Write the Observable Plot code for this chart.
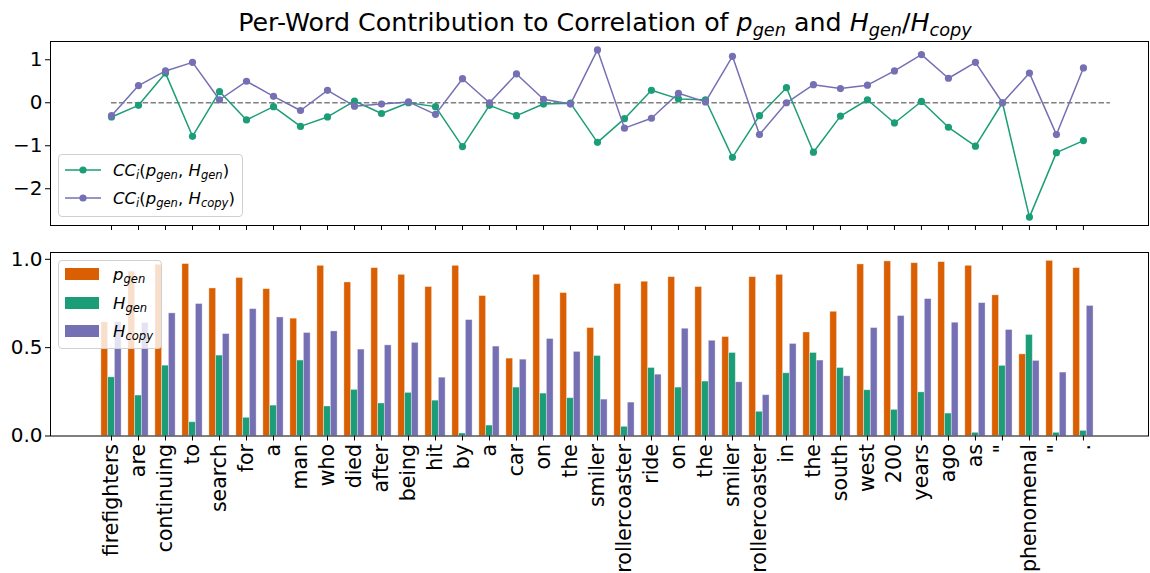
<!DOCTYPE html>
<html>
<head>
<meta charset="utf-8">
<script src="https://cdn.jsdelivr.net/npm/d3@7"></script>
<script src="https://cdn.jsdelivr.net/npm/@observablehq/plot@0.6"></script>
<style>
  html, body { margin: 0; padding: 0; background: white; }
  #wrap { position: relative; width: 1150px; height: 573px; font-family: "DejaVu Sans", sans-serif; color: black; overflow: hidden; }
  #title { position: absolute; left: 50px; width: 1110px; top: 8px; text-align: center; font-size: 25.3px; white-space: nowrap; }
  sub { font-size: 0.7em; vertical-align: -0.3em; line-height: 0; }
  .legend { position: absolute; background: rgba(255,255,255,0.8); border: 1px solid #d0d0d0; border-radius: 4px; box-sizing: border-box; }
  .row { position: absolute; left: 0; height: 24px; display: flex; align-items: center; font-size: 16.5px; white-space: nowrap; }
  .row svg { display: block; }
  .panel { position: absolute; left: 0; }
</style>
</head>
<body>
<div id="wrap">
  <div id="title">Per-Word Contribution to Correlation of <i>p<sub>gen</sub></i> and <i>H<sub>gen</sub></i>/<i>H<sub>copy</sub></i></div>
  <div id="toppanel" class="panel" style="top:0px"></div>
  <div id="bottompanel" class="panel" style="top:240px"></div>
</div>
<script>
const words = ["firefighters","are","continuing","to","search","for","a","man","who","died","after","being","hit","by","a","car","on","the","smiler","rollercoaster","ride","on","the","smiler","rollercoaster","in","the","south","west","200","years","ago","as","\"","phenomenal","\"","."];

const ccGen = [-0.33,-0.06,0.69,-0.78,0.26,-0.40,-0.09,-0.55,-0.33,0.04,-0.25,0.0,-0.09,-1.02,-0.06,-0.30,-0.03,-0.01,-0.92,-0.37,0.29,0.09,0.07,-1.27,-0.30,0.35,-1.15,-0.31,0.07,-0.47,0.03,-0.57,-1.01,0.0,-2.66,-1.16,-0.88];
const ccCopy = [-0.30,0.40,0.74,0.94,0.07,0.50,0.15,-0.18,0.29,-0.08,-0.03,0.02,-0.27,0.56,0.0,0.67,0.08,-0.03,1.23,-0.59,-0.36,0.22,0.02,1.08,-0.74,0.0,0.42,0.33,0.41,0.74,1.12,0.57,0.94,0.0,0.69,-0.74,0.81];

const pGen = [0.643,0.93,0.969,0.973,0.835,0.894,0.831,0.664,0.963,0.869,0.950,0.912,0.843,0.963,0.792,0.438,0.912,0.809,0.611,0.860,0.873,0.899,0.843,0.560,0.899,0.912,0.586,0.703,0.971,0.988,0.978,0.984,0.963,0.796,0.462,0.991,0.950];
const hGen = [0.332,0.229,0.398,0.078,0.455,0.103,0.172,0.427,0.167,0.261,0.184,0.244,0.200,0.014,0.059,0.274,0.240,0.214,0.453,0.052,0.385,0.274,0.308,0.470,0.137,0.355,0.470,0.385,0.259,0.148,0.247,0.127,0.018,0.397,0.572,0.018,0.029];
const hCopy = [0.643,0.64,0.694,0.747,0.577,0.718,0.671,0.583,0.592,0.489,0.513,0.527,0.330,0.656,0.506,0.432,0.549,0.476,0.206,0.189,0.347,0.607,0.539,0.304,0.231,0.521,0.427,0.338,0.611,0.679,0.775,0.641,0.752,0.600,0.425,0.359,0.736];

const topTicks = [-2, -1, 0, 1];
const bottomTicks = [0, 0.5, 1.0];

const cGreen = "#1b9e77", cPurple = "#7570b3", cOrange = "#d95f02";
const idx = d3.range(words.length);
const xDomain = [-2.26, 38.41];

const lineGen = idx.map(i => ({i, v: ccGen[i]}));
const lineCopy = idx.map(i => ({i, v: ccCopy[i]}));

const plotStyle = {fontFamily: "DejaVu Sans", fontSize: "20px", color: "black", background: "transparent", overflow: "visible"};

const topChart = Plot.plot({
  width: 1150, height: 240,
  marginLeft: 50, marginRight: 2, marginTop: 41, marginBottom: 15,
  style: plotStyle,
  x: {domain: xDomain},
  y: {domain: [-2.855, 1.425]},
  marks: [
    Plot.ruleY([0], {x1: 0, x2: words.length, stroke: "#808080", strokeWidth: 1.5, strokeDasharray: "5.5,2.4"}),
    Plot.line(lineGen, {x: "i", y: "v", stroke: cGreen, strokeWidth: 1.5}),
    Plot.dot(lineGen, {x: "i", y: "v", fill: cGreen, r: 3.6}),
    Plot.line(lineCopy, {x: "i", y: "v", stroke: cPurple, strokeWidth: 1.5}),
    Plot.dot(lineCopy, {x: "i", y: "v", fill: cPurple, r: 3.6}),
    Plot.axisX(idx, {tickSize: 5, tickFormat: () => "", label: null}),
    Plot.axisY(topTicks, {tickSize: 5, tickPadding: 3, fontSize: 20, label: null}),
    Plot.frame({stroke: "black", strokeWidth: 1})
  ]
});
document.getElementById("toppanel").appendChild(topChart);

const bars = [];
const series = [[pGen, cOrange, -0.25], [hGen, cGreen, 0], [hCopy, cPurple, 0.25]];
for (const [arr, color, off] of series) {
  idx.forEach(i => bars.push({x1: i + off - 0.125, x2: i + off + 0.125, v: arr[i], color}));
}

const bottomChart = Plot.plot({
  width: 1150, height: 333,
  marginLeft: 50, marginRight: 2, marginTop: 12, marginBottom: 137.5,
  style: plotStyle,
  x: {domain: xDomain},
  y: {domain: [0, 1.0385]},
  marks: [
    Plot.rectY(bars, {x1: "x1", x2: "x2", y: "v", fill: "color", stroke: "white", strokeOpacity: 0.45, strokeWidth: 0.8, inset: 0}),
    Plot.axisX(idx, {tickSize: 5, tickPadding: 3, tickRotate: -90, tickFormat: i => words[i], fontSize: 20.5, label: null}),
    Plot.axisY(bottomTicks, {tickSize: 5, tickPadding: 3, fontSize: 20, tickFormat: d3.format(".1f"), label: null}),
    Plot.frame({stroke: "black", strokeWidth: 1})
  ]
});
document.getElementById("bottompanel").appendChild(bottomChart);

// legends
const wrap = document.getElementById("wrap");
function legend(left, topPx, w, h, rows) {
  const box = document.createElement("div");
  box.className = "legend";
  box.style.left = left + "px"; box.style.top = topPx + "px";
  box.style.width = w + "px"; box.style.height = h + "px";
  rows.forEach(r => {
    const row = document.createElement("div");
    row.className = "row";
    row.style.top = (r.y - 12) + "px";
    row.style.left = "6px";
    row.innerHTML = r.swatch + `<span style="margin-left:${r.gap}px">${r.html}</span>`;
    box.appendChild(row);
  });
  wrap.appendChild(box);
}
const lineSw = c => `<svg width="36" height="12"><line x1="0" y1="6" x2="36" y2="6" stroke="${c}" stroke-width="1.5"/><circle cx="18" cy="6" r="3.6" fill="${c}"/></svg>`;
const rectSw = c => `<svg width="34" height="12"><rect x="0" y="0" width="34" height="12" fill="${c}"/></svg>`;

legend(58, 154, 185, 63, [
  {y: 15, swatch: lineSw(cGreen), gap: 12, html: "<i>CC<sub>i</sub></i>(<i>p<sub>gen</sub></i>, <i>H<sub>gen</sub></i>)"},
  {y: 43, swatch: lineSw(cPurple), gap: 12, html: "<i>CC<sub>i</sub></i>(<i>p<sub>gen</sub></i>, <i>H<sub>copy</sub></i>)"}
]);
legend(58, 260, 104, 89, [
  {y: 13, swatch: rectSw(cOrange), gap: 14, html: "<i>p<sub>gen</sub></i>"},
  {y: 42, swatch: rectSw(cGreen), gap: 14, html: "<i>H<sub>gen</sub></i>"},
  {y: 70, swatch: rectSw(cPurple), gap: 14, html: "<i>H<sub>copy</sub></i>"}
]);
</script>
</body>
</html>
